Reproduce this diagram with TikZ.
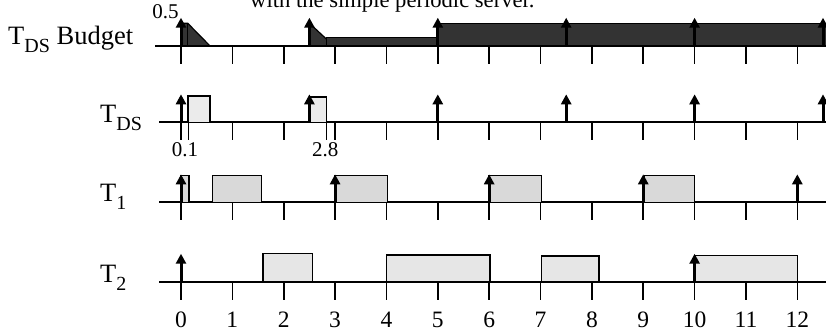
\documentclass[tikz,border=0pt]{standalone}
\usepackage{fontspec}
\setmainfont{Liberation Serif}
\usetikzlibrary{arrows.meta}
\definecolor{budgetfill}{HTML}{333333}
\definecolor{dsfill}{HTML}{EBEBEB}
\definecolor{taskone}{HTML}{D9D9D9}
\definecolor{tasktwo}{HTML}{E6E6E6}
\newcommand{\lowsub}[1]{\raisebox{-8pt}{\fontsize{20}{20}\selectfont #1}}
\tikzset{
  axisline/.style={line width=2pt},
  tickmark/.style={line width=1.6pt},
  release/.style={line width=3pt,-{Triangle[length=10pt,width=10pt]}},
  jobbox/.style={draw=black,line width=1.5pt},
  budgetshape/.style={draw=black,line width=1.2pt,fill=budgetfill},
  marker/.style={line width=1pt},
  rowlabel/.style={anchor=base west,inner sep=0pt,font=\fontsize{26.5}{26.5}\selectfont},
  ticklabel/.style={font=\fontsize{23.5}{23.5}\selectfont,inner sep=0pt},
  valuelabel/.style={font=\fontsize{21}{21}\selectfont,inner sep=0pt},
  captiontext/.style={anchor=base west,inner sep=0pt,font=\fontsize{22.6}{22.6}\selectfont},
}
\begin{document}
\begin{tikzpicture}[x=1pt,y=1pt]
\useasboundingbox (0,0) rectangle (826,329);
\clip (0,0) rectangle (826,329);

% caption line, partly above the page
\node[captiontext] (caption) at (250,321) {with the simple periodic server.};

% row labels
\node[rowlabel] (lbudget) at (8,284) {T\lowsub{DS} Budget};
\node[rowlabel] (lds) at (100,206.3) {T\lowsub{DS}};
\node[rowlabel] (lone) at (100,127) {T\lowsub{1}};
\node[rowlabel] (ltwo) at (100,46) {T\lowsub{2}};

% time axes with unit ticks
\foreach \yb in {283.3,206.7,126.7,47.3} {
  \draw[axisline] (159,\yb) -- (830,\yb);
  \foreach \k in {0,...,12}
    \draw[tickmark] ({181+51.36*\k},\yb) -- ++(0,-18);
}

% time numbers
\foreach \k in {0,...,12}
  \node[ticklabel] (n\k) at ({181+51.36*\k},9) {\k};

% ---------- server budget ----------
\begin{scope}[shift={(181,283.3)},x=51.36pt,y=1pt]
  \draw[budgetshape] (0,0) -- (0,22.5) -- (0.13,22.5) -- (0.56,0) -- cycle;
  \draw[line width=1pt] (0.13,0) -- (0.13,22.5);
  \draw[budgetshape] (2.5,0) -- (2.5,22.5) -- (2.97,0) -- cycle;
  \draw[budgetshape] (2.83,0) rectangle (5,8.4);
  \draw[budgetshape] (5,0) rectangle (13.2,22.5);
  \draw[axisline] (-0.5,0) -- (13.2,0);
  \foreach \t in {0,2.5,5,7.5,10,12.5}
    \draw[release] (\t,0) -- (\t,28);
  \node[valuelabel,anchor=base east] (half) at (-0.04,27) {0.5};
\end{scope}

% ---------- deferrable server ----------
\begin{scope}[shift={(181,206.7)},x=51.36pt,y=1pt]
  \draw[jobbox,fill=dsfill] (0.14,0) rectangle (0.56,26.5);
  \draw[jobbox,fill=dsfill] (2.5,0) rectangle (2.83,25.5);
  \draw[marker] (0.14,0) -- (0.14,-18);
  \draw[marker] (2.83,0) -- (2.83,-18);
  \foreach \t in {0,2.5,5,7.5,10,12.5}
    \draw[release] (\t,0) -- (\t,28);
  \node[valuelabel] (tpoint1) at (0.08,-27.7) {0.1};
  \node[valuelabel] (tpoint28) at (2.81,-27.7) {2.8};
\end{scope}

% ---------- task 1 ----------
\begin{scope}[shift={(181,126.7)},x=51.36pt,y=1pt]
  \draw[jobbox,fill=taskone] (0,0) rectangle (0.16,26.6);
  \draw[jobbox,fill=taskone] (0.61,0) rectangle (1.57,26.6);
  \draw[jobbox,fill=taskone] (3,0) rectangle (4.02,26.6);
  \draw[jobbox,fill=taskone] (6,0) rectangle (7.02,26.6);
  \draw[jobbox,fill=taskone] (9.02,0) rectangle (10,26.6);
  \foreach \t in {0,3,6,9,12}
    \draw[release] (\t,0) -- (\t,28);
\end{scope}

% ---------- task 2 ----------
\begin{scope}[shift={(181,47.3)},x=51.36pt,y=1pt]
  \draw[jobbox,fill=tasktwo] (1.6,0) rectangle (2.56,28.4);
  \draw[jobbox,fill=tasktwo] (4,0) rectangle (6.02,26.7);
  \draw[jobbox,fill=tasktwo] (7.02,0) rectangle (8.14,25.7);
  \draw[jobbox,fill=tasktwo] (10,0) rectangle (12,26);
  \foreach \t in {0,10}
    \draw[release] (\t,0) -- (\t,28);
\end{scope}
\end{tikzpicture}
\end{document}
